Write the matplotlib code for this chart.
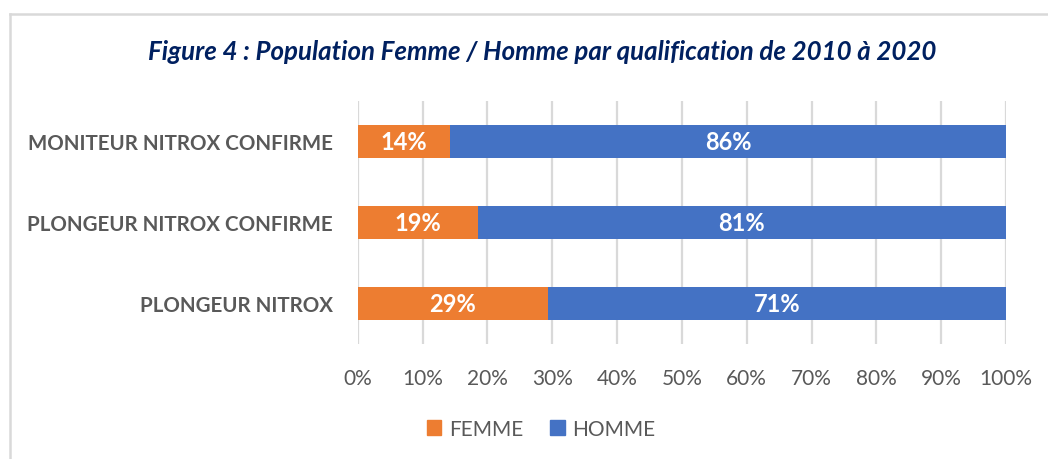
import matplotlib
matplotlib.use("Agg")
import matplotlib.pyplot as plt
from matplotlib.lines import Line2D
from matplotlib.patches import Patch
import numpy as np

# data (share in %)
categories = ["MONITEUR NITROX CONFIRME", "PLONGEUR NITROX CONFIRME", "PLONGEUR NITROX"]
femme = [14.2, 18.5, 29.3]
homme = [85.8, 81.5, 70.7]
femme_labels = ["14%", "19%", "29%"]
homme_labels = ["86%", "81%", "71%"]
xticks = list(range(0, 101, 10))

ORANGE = "#ED7D31"
BLUE = "#4472C4"
GREY = "#595959"
TITLE = "#002060"

plt.rcParams['font.family'] = ['Lato', 'DejaVu Sans']

W, H = 1048, 460
fig = plt.figure(figsize=(W / 100, H / 100), dpi=100)
ax = fig.add_axes([357.7 / W, 1 - 345 / H, (1006 - 357.7) / W, (345 - 102) / H])

y = np.arange(len(categories))
b1 = ax.barh(y, femme, height=0.4, color=ORANGE, zorder=3)
b2 = ax.barh(y, homme, left=femme, height=0.4, color=BLUE, zorder=3)

for bars, labels in ((b1, femme_labels), (b2, homme_labels)):
    ax.bar_label(bars, labels=labels, label_type='center', color='white',
                 fontsize=17, fontweight='bold')

ax.set_ylim(len(categories) - 0.5, -0.5)
ax.set_xlim(0, 100)
ax.set_yticks(y)
ax.set_yticklabels(categories, fontsize=14.8, fontweight='bold', color=GREY)
ax.set_xticks(xticks)
ax.set_xticklabels([f"{t}%" for t in xticks], fontsize=15, color=GREY)
ax.tick_params(axis='both', length=0)
ax.tick_params(axis='y', pad=18)
ax.tick_params(axis='x', pad=17)
ax.grid(axis='x', color='#D9D9D9', linewidth=1.6, zorder=0)
for s in ax.spines.values():
    s.set_visible(False)

fig.text(542 / W, 1 - 52 / H, "Figure 4 : Population Femme / Homme par qualification de 2010 à 2020",
         ha='center', va='center', fontsize=18.6, fontweight='bold', style='italic', color=TITLE)

handles = [Patch(color=ORANGE, label="FEMME"), Patch(color=BLUE, label="HOMME")]
leg = fig.legend(handles=handles, loc='center', bbox_to_anchor=(541 / W, 1 - 430 / H), ncol=2,
                 frameon=False, fontsize=15, handlelength=0.7, handleheight=0.7,
                 handletextpad=0.35, columnspacing=1.3)
for t in leg.get_texts():
    t.set_color(GREY)

# outer frame of the chart area
fig.add_artist(Line2D([9.5 / W, 1], [1 - 14.5 / H, 1 - 14.5 / H], color='#D9D9D9', linewidth=1.8,
                      transform=fig.transFigure))
fig.add_artist(Line2D([9.5 / W, 9.5 / W], [1 - 14.5 / H, 0], color='#D9D9D9', linewidth=1.8,
                      transform=fig.transFigure))

fig.savefig("out.png", dpi=100)
